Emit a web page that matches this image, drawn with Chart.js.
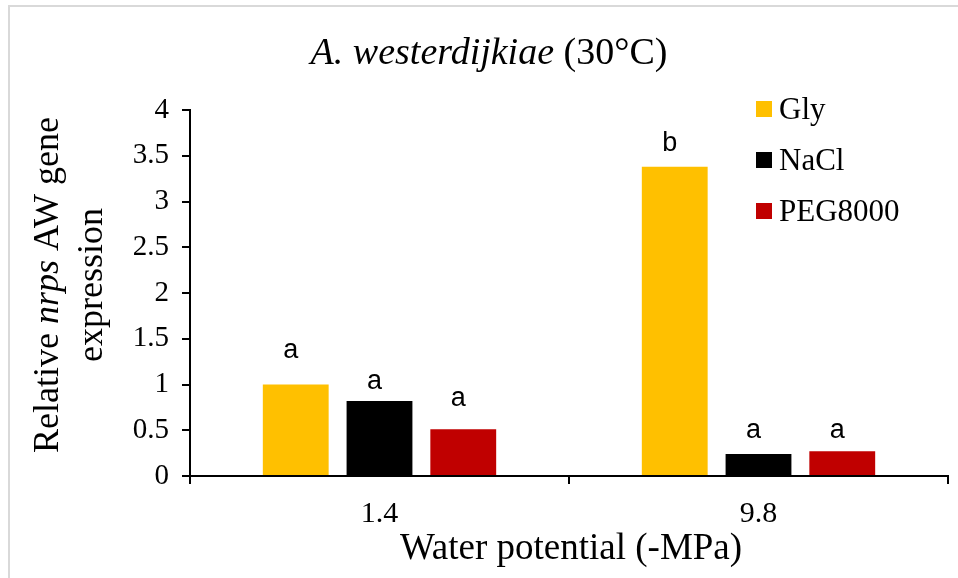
<!DOCTYPE html>
<html>
<head>
<meta charset="utf-8">
<script src="https://cdn.jsdelivr.net/npm/chart.js@4"></script>
<style>
  html, body { margin: 0; padding: 0; background: #fff; }
  #wrap { width: 958px; height: 578px; }
</style>
</head>
<body>
<div id="wrap"><canvas id="myChart" width="958" height="578"></canvas></div>
<script>
// water potential groups and the three osmolytes
const categories = ['1.4', '9.8'];
const seriesNames = ['Gly', 'NaCl', 'PEG8000'];
const seriesColors = ['#FFC000', '#000000', '#C00000'];

// relative expression per osmolyte
const glyValues = [1.0, 3.38];
const naclValues = [0.82, 0.24];
const pegValues = [0.51, 0.27];

// significance letters and the expression level each one sits at
const glyLetters = ['a', 'b'];
const naclLetters = ['a', 'a'];
const pegLetters = ['a', 'a'];
const glyLetterLevel = [1.29, 3.55];
const naclLetterLevel = [0.95, 0.41];
const pegLetterLevel = [0.76, 0.41];

const yMin = 0;
const yMax = 4;
const yStep = 0.5;

const SERIF = '"Liberation Serif", "Times New Roman", serif';
const SANS = '"Liberation Sans", Arial, sans-serif';

const letters = [glyLetters, naclLetters, pegLetters];
const letterLevels = [glyLetterLevel, naclLetterLevel, pegLetterLevel];

// light grey frame round the whole figure
const framePlugin = {
    id: 'frame',
    beforeDraw(chart) {
        const ctx = chart.ctx;
        ctx.save();
        ctx.fillStyle = '#fff';
        ctx.fillRect(0, 0, chart.width, chart.height);
        ctx.strokeStyle = '#d9d9d9';
        ctx.lineWidth = 2;
        ctx.beginPath();
        ctx.moveTo(chart.width, 6);
        ctx.lineTo(9, 6);
        ctx.lineTo(9, chart.height);
        ctx.stroke();
        ctx.restore();
    }
};

// title, axis titles, legend and letters over the bars
const textPlugin = {
    id: 'texts',
    afterDraw(chart) {
        const ctx = chart.ctx;
        const area = chart.chartArea;
        ctx.save();
        ctx.fillStyle = '#000';

        // title: species name in italics
        const italicPart = 'A. westerdijkiae';
        const plainPart = ' (30°C)';
        ctx.font = 'italic 38px ' + SERIF;
        const w1 = ctx.measureText(italicPart).width;
        ctx.font = '38px ' + SERIF;
        const w2 = ctx.measureText(plainPart).width;
        let tx = 489 - (w1 + w2) / 2;
        ctx.textBaseline = 'alphabetic';
        ctx.textAlign = 'left';
        ctx.font = 'italic 38px ' + SERIF;
        ctx.fillText(italicPart, tx, 64);
        ctx.font = '38px ' + SERIF;
        ctx.fillText(plainPart, tx + w1, 64);

        // y axis title, two lines, gene name in italics
        ctx.save();
        ctx.translate(0, 285);
        ctx.rotate(-Math.PI / 2);
        const parts = [['Relative ', false], ['nrps', true], [' AW gene', false]];
        let total = 0;
        parts.forEach(p => {
            ctx.font = (p[1] ? 'italic ' : '') + '36px ' + SERIF;
            total += ctx.measureText(p[0]).width;
        });
        let px = -total / 2;
        parts.forEach(p => {
            ctx.font = (p[1] ? 'italic ' : '') + '36px ' + SERIF;
            ctx.fillText(p[0], px, 58);
            px += ctx.measureText(p[0]).width;
        });
        ctx.font = '36px ' + SERIF;
        ctx.textAlign = 'center';
        ctx.fillText('expression', 0, 102);
        ctx.restore();

        // x axis title
        ctx.font = '37px ' + SERIF;
        ctx.textAlign = 'center';
        ctx.textBaseline = 'alphabetic';
        ctx.fillText('Water potential (-MPa)', 571, 559);

        // legend
        const lx = area.right - 192;
        chart.data.datasets.forEach((ds, i) => {
            const cy = area.top - 1 + i * 51;
            ctx.fillStyle = ds.backgroundColor;
            ctx.fillRect(lx, cy - 8, 16, 16);
            ctx.fillStyle = '#000';
            ctx.font = '31px ' + SERIF;
            ctx.textAlign = 'left';
            ctx.textBaseline = 'middle';
            ctx.fillText(ds.label, lx + 23, cy + 2);
        });

        // significance letters
        ctx.font = '27px ' + SANS;
        ctx.textAlign = 'center';
        ctx.textBaseline = 'alphabetic';
        const yScale = chart.scales.y;
        chart.data.datasets.forEach((ds, i) => {
            const meta = chart.getDatasetMeta(i);
            meta.data.forEach((bar, j) => {
                ctx.fillText(letters[i][j], bar.x - 5, yScale.getPixelForValue(letterLevels[i][j]));
            });
        });
        ctx.restore();
    }
};

const ctx = document.getElementById('myChart').getContext('2d');
const myChart = new Chart(ctx, {
    type: 'bar',
    data: {
        labels: categories,
        datasets: [
            { label: seriesNames[0], data: glyValues, backgroundColor: seriesColors[0] },
            { label: seriesNames[1], data: naclValues, backgroundColor: seriesColors[1] },
            { label: seriesNames[2], data: pegValues, backgroundColor: seriesColors[2] }
        ]
    },
    options: {
        responsive: false,
        devicePixelRatio: 1,
        animation: false,
        categoryPercentage: 0.663,
        barPercentage: 0.786,
        layout: { padding: { top: 110, right: 10, left: 0, bottom: 0 } },
        plugins: {
            legend: { display: false },
            title: { display: false },
            tooltip: { enabled: false }
        },
        scales: {
            x: {
                grid: {
                    offset: true,
                    drawOnChartArea: false,
                    drawTicks: true,
                    tickLength: 8,
                    color: '#000',
                    lineWidth: 2
                },
                border: { display: true, color: '#000', width: 2 },
                ticks: { color: '#000', font: { family: SERIF, size: 30 }, padding: 12 },
                afterFit(scale) { scale.height = 102; }
            },
            y: {
                min: yMin,
                max: yMax,
                ticks: {
                    stepSize: yStep,
                    color: '#000',
                    font: { family: SERIF, size: 29 },
                    padding: 13,
                    callback: value => String(Math.round(value * 10) / 10)
                },
                grid: {
                    drawOnChartArea: false,
                    drawTicks: true,
                    tickLength: 8,
                    color: '#000',
                    lineWidth: 2
                },
                border: { display: true, color: '#000', width: 2 },
                afterFit(scale) { scale.width = 190; }
            }
        }
    },
    plugins: [framePlugin, textPlugin]
});
</script>
</body>
</html>
